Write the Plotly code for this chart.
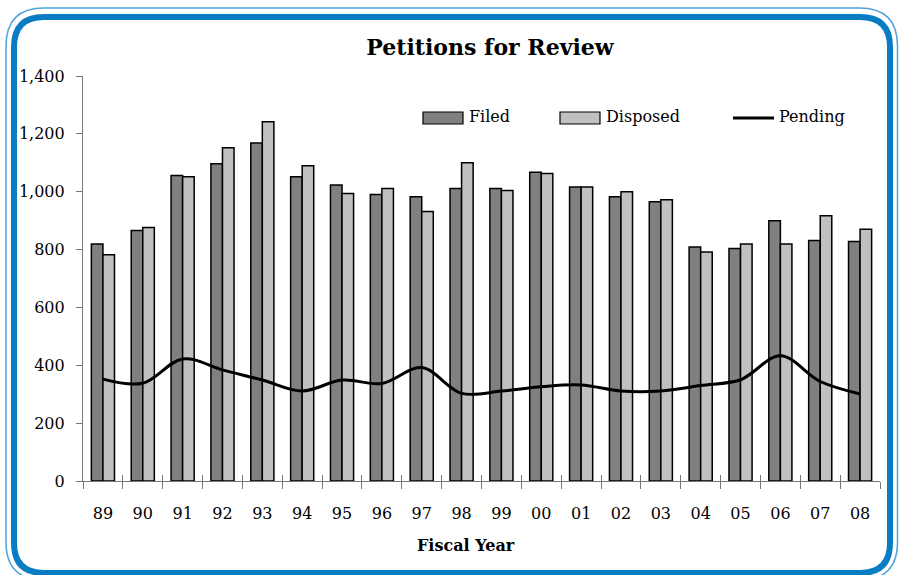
import plotly.graph_objects as go

years = ['89', '90', '91', '92', '93', '94', '95', '96', '97', '98',
         '99', '00', '01', '02', '03', '04', '05', '06', '07', '08']
filed = [819, 866, 1056, 1097, 1168, 1052, 1023, 990, 983, 1011,
         1011, 1067, 1016, 983, 965, 809, 804, 900, 831, 828]
disposed = [782, 876, 1052, 1152, 1242, 1090, 994, 1011, 932, 1100,
            1004, 1063, 1016, 1000, 972, 792, 819, 819, 917, 870]
pending = [352, 338, 422, 384, 349, 311, 349, 337, 392, 303,
           311, 326, 332, 311, 311, 330, 350, 433, 344, 301]
y_ticks = [0, 200, 400, 600, 800, 1000, 1200, 1400]

FONT = 'DejaVu Serif'
W, H = 899, 575
L, R, T, B = 83, 880, 76, 481   # plot area in pixels


def px(x, y):
    # pixel -> paper coords
    return (x - L) / (R - L), (B - y) / (B - T)


def rounded_rect(x0, y0, x1, y1, r):
    pts = [('M', x0 + r, y0), ('L', x1 - r, y0), ('Q', x1, y0, x1, y0 + r),
           ('L', x1, y1 - r), ('Q', x1, y1, x1 - r, y1), ('L', x0 + r, y1),
           ('Q', x0, y1, x0, y1 - r), ('L', x0, y0 + r), ('Q', x0, y0, x0 + r, y0)]
    s = ''
    for p in pts:
        cmd, coords = p[0], p[1:]
        out = []
        for i in range(0, len(coords), 2):
            a, b = px(coords[i], coords[i + 1])
            out.append('{0:.5f},{1:.5f}'.format(a, b))
        s += cmd + ' '.join(out) + ' '
    return s + 'Z'


fig = go.Figure()

fig.add_trace(go.Bar(x=years, y=filed, name='Filed',
                     marker=dict(color='#808080', line=dict(color='black', width=1.5))))
fig.add_trace(go.Bar(x=years, y=disposed, name='Disposed',
                     marker=dict(color='#c0c0c0', line=dict(color='black', width=1.5))))
fig.add_trace(go.Scatter(x=years, y=pending, name='Pending', mode='lines',
                         line=dict(color='black', width=3, shape='spline', smoothing=1)))

# x ticks crossing the axis line (upper half)
fig.add_trace(go.Scatter(x=[None], y=[None], xaxis='x2', showlegend=False))

shapes = []
# blue frame
shapes.append(dict(type='path', xref='paper', yref='paper', layer='above',
                   path=rounded_rect(6, 8, 897.5, 580, 38),
                   line=dict(color='#4ea3da', width=1.5)))
shapes.append(dict(type='path', xref='paper', yref='paper', layer='above',
                   path=rounded_rect(14, 17, 890, 573, 30),
                   line=dict(color='#0a7cc4', width=6)))

# legend drawn by hand
annotations = []
legend_items = [('Filed', '#808080', 423, 'box'),
                ('Disposed', '#c0c0c0', 560, 'box'),
                ('Pending', 'black', 733, 'line')]
for name, col, x0, kind in legend_items:
    if kind == 'box':
        a0, b0 = px(x0, 112)
        a1, b1 = px(x0 + 40, 124)
        shapes.append(dict(type='rect', xref='paper', yref='paper',
                           x0=a0, y0=b0, x1=a1, y1=b1, fillcolor=col,
                           line=dict(color='black', width=1.2)))
    else:
        a0, b0 = px(x0, 118)
        a1, _ = px(x0 + 41, 118)
        shapes.append(dict(type='line', xref='paper', yref='paper',
                           x0=a0, y0=b0, x1=a1, y1=b0,
                           line=dict(color='black', width=3)))
    tx, ty = px(x0 + 44, 117)
    annotations.append(dict(text=name, xref='paper', yref='paper', x=tx, y=ty,
                            xanchor='left', yanchor='middle', showarrow=False,
                            font=dict(family=FONT, size=16, color='black')))

ax, ay = px(466, 545)
annotations.append(dict(text='<b>Fiscal Year</b>', xref='paper', yref='paper',
                        x=ax, y=ay, xanchor='center', yanchor='middle', showarrow=False,
                        font=dict(family=FONT, size=16, color='black')))

fig.update_layout(
    width=W, height=H,
    margin=dict(l=L, r=W - R, t=T, b=H - B),
    paper_bgcolor='white', plot_bgcolor='white',
    barmode='group', bargap=0.42, bargroupgap=0,
    showlegend=False,
    title=dict(text='<b>Petitions for Review</b>', x=490 / W, xanchor='center',
               y=1 - 47 / H, yanchor='middle',
               font=dict(family=FONT, size=22, color='black')),
    font=dict(family=FONT, size=16, color='black'),
    xaxis=dict(type='category', showline=True, linecolor='#777777', linewidth=1.2,
               ticks='outside', tickson='boundaries', ticklen=7, tickcolor='#777777',
               tickwidth=1.2, showgrid=False, ticklabelstandoff=18,
               tickfont=dict(family=FONT, size=16)),
    xaxis2=dict(overlaying='x', range=[-0.5, len(years) - 0.5],
                tickvals=[i - 0.5 for i in range(len(years) + 1)],
                ticks='inside', ticklen=6, tickcolor='#777777', tickwidth=1.2,
                showticklabels=False, showgrid=False, zeroline=False, showline=False),
    yaxis=dict(range=[0, 1400], tickvals=y_ticks, tickformat=',d',
               showline=True, linecolor='#777777', linewidth=1.2,
               ticks='outside', ticklen=6, tickcolor='#777777', tickwidth=1.2,
               showgrid=False, zeroline=False, ticklabelstandoff=8,
               tickfont=dict(family=FONT, size=16)),
    shapes=shapes,
    annotations=annotations,
)

# the page body has a default 8px margin; drop it so the figure sits at 0,0
fig.write_html('out.html', config={'displayModeBar': False},
               post_script="document.body.style.margin='0px';")
